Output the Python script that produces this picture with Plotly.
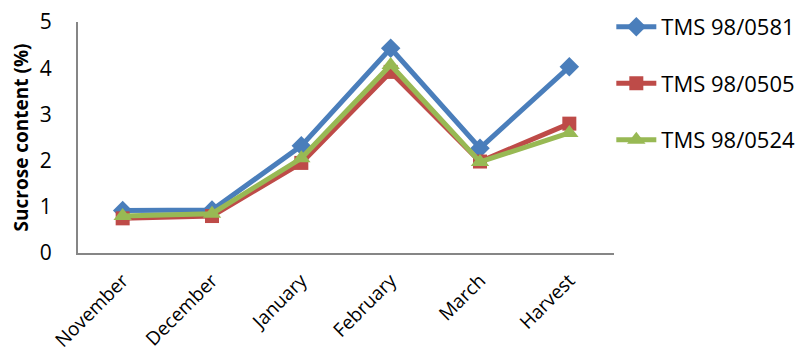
import plotly.graph_objects as go

months = ["November", "December", "January", "February", "March", "Harvest"]
tms_0581 = [0.92, 0.93, 2.32, 4.43, 2.27, 4.03]
tms_0505 = [0.75, 0.80, 1.95, 3.92, 1.98, 2.80]
tms_0524 = [0.80, 0.85, 2.05, 4.07, 1.97, 2.60]

series = [
    ("TMS 98/0581", tms_0581, "#4A7EBB", "diamond", 15),
    ("TMS 98/0505", tms_0505, "#BE4B48", "square", 14),
    ("TMS 98/0524", tms_0524, "#98B954", "triangle-up", 16),
]

fig = go.Figure()
for i, (name, vals, color, symbol, size) in enumerate(series):
    fig.add_trace(go.Scatter(
        x=months, y=vals, name=name, mode="lines+markers",
        line=dict(color=color, width=5),
        marker=dict(symbol=symbol, size=size, color=color),
        legendgroup=f"g{i}",
    ))

font_family = "Open Sans, Liberation Sans, sans-serif"
fig.update_layout(
    width=804, height=358,
    margin=dict(l=78, r=190, t=22, b=105, autoexpand=False),
    paper_bgcolor="white", plot_bgcolor="white",
    font=dict(family=font_family, size=19, color="black"),
    showlegend=True,
    legend=dict(
        x=0.995, xanchor="left", y=1.07, yanchor="top",
        font=dict(size=22), tracegroupgap=25,
        itemwidth=40, bgcolor="rgba(0,0,0,0)",
    ),
    xaxis=dict(
        range=[-0.5, len(months) - 0.5],
        showline=True, linecolor="#868686", linewidth=2,
        tickangle=-45, showgrid=False, ticks="", automargin=False,
        tickfont=dict(size=19), ticklabelstandoff=7,
    ),
    yaxis=dict(
        range=[0, 5], dtick=1, showline=True, linecolor="#868686",
        linewidth=2, showgrid=False, ticks="", zeroline=False, automargin=False,
        tickfont=dict(size=21), ticklabelstandoff=20,
        title=dict(text="<b>Sucrose content (%)</b>", font=dict(size=19), standoff=6),
    ),
)

fig.write_html("out.html")
